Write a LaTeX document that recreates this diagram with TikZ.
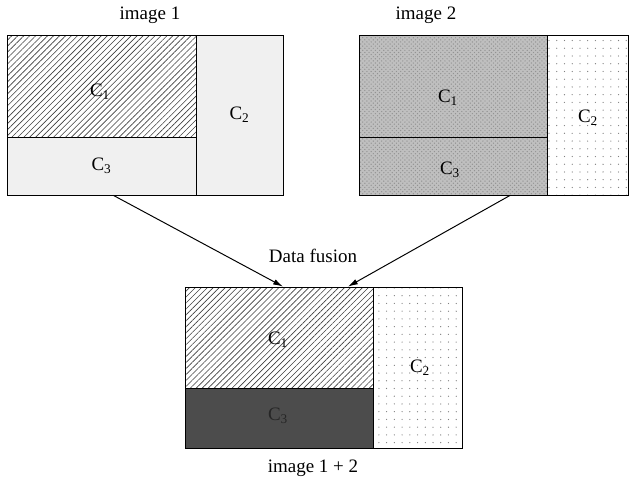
\documentclass[tikz,border=0pt]{standalone}
\usepackage{fontspec}
\setmainfont{Liberation Serif}
\usepackage{xcolor}
\usepackage{tikz}
\usetikzlibrary{calc,arrows.meta,patterns,patterns.meta}

\begin{document}
\begin{tikzpicture}[font=\fontsize{13.5}{16}\selectfont, >={Latex[length=7pt,width=4pt]}]
\tikzset{
  zone/.style={draw, line width=0.6pt, inner sep=0pt, anchor=center},
  hatch/.style={preaction={fill=white}, pattern={Lines[angle=45,distance=3pt,line width=0.45pt]}, pattern color=black!75},
  dotted zone/.style={preaction={fill=white}, pattern={Dots[distance=5.5pt,radius=0.45pt]}, pattern color=gray},
  grain/.style={preaction={fill=gray!50}, pattern=crosshatch dots, pattern color=gray!85},
}
\useasboundingbox (0,0) rectangle (15.775,-12.225);
% image 1
\node[zone, hatch, minimum width=4.725cm, minimum height=2.55cm] (a1) at (2.5375,-2.15) {};
\node at (2.5,-2.3) {C\textsubscript{1}};
\node[zone, fill=gray!12, minimum width=2.175cm, minimum height=4cm] (a2) at (5.9875,-2.875) {C\textsubscript{2}};
\node[zone, fill=gray!12, minimum width=4.725cm, minimum height=1.45cm] (a3) at (2.5375,-4.15) {C\textsubscript{3}};
\node (t1) at (3.75,-0.375) {image 1};
% image 2
\node[zone, grain, minimum width=4.7cm, minimum height=2.55cm] (b1) at (11.325,-2.15) {};
\node at (11.2,-2.45) {C\textsubscript{1}};
\node[zone, dotted zone, minimum width=2.025cm, minimum height=4cm] (b2) at (14.6875,-2.875) {};
\node at (14.7,-2.95) {C\textsubscript{2}};
\node[zone, grain, minimum width=4.7cm, minimum height=1.45cm] (b3) at (11.325,-4.15) {};
\node at (11.25,-4.25) {C\textsubscript{3}};
\node (t2) at (10.65,-0.375) {image 2};
% fused image
\node[zone, hatch, minimum width=4.7cm, minimum height=2.525cm] (f1) at (6.975,-8.4375) {};
\node at (6.95,-8.5) {C\textsubscript{1}};
\node[zone, dotted zone, minimum width=2.225cm, minimum height=4.025cm] (f2) at (10.4375,-9.1875) {};
\node at (10.5,-9.2) {C\textsubscript{2}};
\node[zone, fill=black!70, minimum width=4.7cm, minimum height=1.5cm] (f3) at (6.975,-10.45) {};
\node[text=black!85] at (6.95,-10.4) {C\textsubscript{3}};
\node (tf) at (7.825,-11.7) {image 1 + 2};
\node (df) at (7.825,-6.4) {Data fusion};
\draw[->, line width=0.7pt] ($(a3.south)+(0.3,0)$) -- ($(f1.north)+(0.1,0)$);
\draw[->, line width=0.7pt] ($(b3.south)+(1.425,0)$) -- ($(f1.north)+(1.725,0)$);
\end{tikzpicture}
\end{document}
